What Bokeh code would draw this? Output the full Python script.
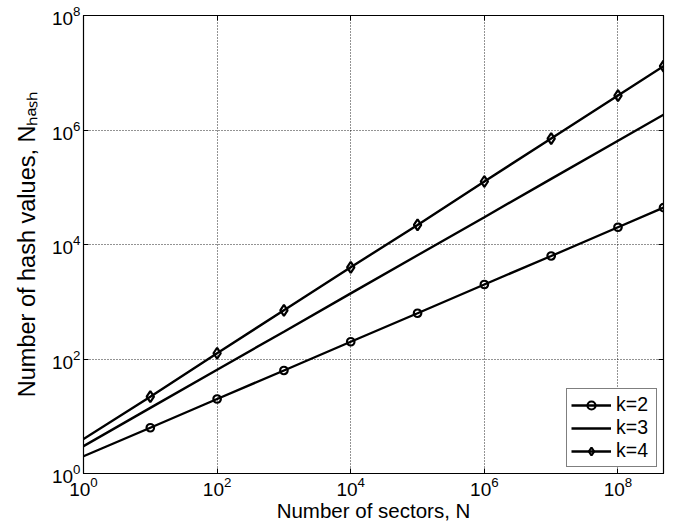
from bokeh.plotting import figure
from bokeh.models import Range1d, LogAxis, FixedTicker, Legend, LegendItem
from bokeh.embed import file_html
from bokeh.resources import INLINE

# Data
N = [1, 10, 100, 1e3, 1e4, 1e5, 1e6, 1e7, 1e8, 4.8e8]
k2 = [2.0, 6.3, 20, 63, 200, 630, 2000, 6300, 20000, 44000]
k3 = [3.0, 14, 65, 300, 1400, 6500, 30000, 140000, 650000, 1.85e6]
k4 = [4.0, 22, 126, 710, 4000, 22000, 126000, 710000, 4.0e6, 1.3e7]
marker_idx = [1, 2, 3, 4, 5, 6, 7, 8, 9]

x_ticks = [1, 1e2, 1e4, 1e6, 1e8]
y_ticks = [1, 1e2, 1e4, 1e6, 1e8]
series_labels = ["k=2", "k=3", "k=4"]
x_label = "Number of sectors, N"
y_label = "Number of hash values, N\u2095\u2090\u209b\u2095"

X0, X1 = 1, 4.8e8
Y0, Y1 = 1, 1e8

FONT = "Liberation Sans"

p = figure(width=680, height=524, x_axis_type="log", y_axis_type="log",
           x_range=Range1d(X0, X1), y_range=Range1d(Y0, Y1),
           output_backend="svg", toolbar_location=None,
           min_border_left=83, min_border_right=17, min_border_top=15, min_border_bottom=51)
p.background_fill_color = "white"
p.border_fill_color = "white"
p.outline_line_color = "black"
p.outline_line_width = 1.2

def style_axis(ax, ticks, show_labels):
    ax.ticker = FixedTicker(ticks=ticks)
    ax.major_tick_in = 5
    ax.major_tick_out = 0
    ax.minor_tick_in = 0
    ax.minor_tick_out = 0
    ax.axis_line_color = "black"
    ax.major_tick_line_color = "black"
    ax.major_tick_line_width = 1
    if show_labels:
        ax.major_label_text_font = FONT
        ax.major_label_text_font_size = "19px"
        ax.major_label_text_color = "black"
        ax.major_label_standoff = 3
        ax.axis_label_text_font = FONT
        ax.axis_label_text_font_style = "normal"
        ax.axis_label_text_color = "black"
    else:
        ax.major_label_overrides = {t: "" for t in ticks}
        ax.major_label_text_font_size = "0px"
        ax.major_label_standoff = 0

style_axis(p.xaxis[0], x_ticks, True)
style_axis(p.yaxis[0], y_ticks, True)
p.xaxis.axis_label = x_label
p.xaxis.axis_label_text_font_size = "20.5px"
p.xaxis.axis_label_standoff = 0
p.yaxis.axis_label = y_label
p.yaxis.axis_label_text_font_size = "23.5px"
p.yaxis.axis_label_standoff = 9

top = LogAxis()
style_axis(top, x_ticks, False)
p.add_layout(top, "above")
right = LogAxis()
style_axis(right, y_ticks, False)
p.add_layout(right, "right")

for g, t in ((p.xgrid[0], x_ticks), (p.ygrid[0], y_ticks)):
    g.ticker = FixedTicker(ticks=t)
    g.grid_line_color = "black"
    g.grid_line_dash = "1 2"
    g.grid_line_width = 1
    g.grid_line_alpha = 0.85

lw = 2.4
r2l = p.line(N, k2, line_width=lw, line_color="black")
r2m = p.scatter([N[i] for i in marker_idx], [k2[i] for i in marker_idx], marker="circle",
                size=7.5, line_width=2.2, line_color="black", fill_color=None)
r3l = p.line(N, k3, line_width=lw, line_color="black")
r4l = p.line(N, k4, line_width=lw, line_color="black")
r4m = p.scatter([N[i] for i in marker_idx], [k4[i] for i in marker_idx], marker="diamond",
                size=11, line_width=2.2, line_color="black", fill_color=None)

legend = Legend(items=[LegendItem(label=series_labels[0], renderers=[r2l, r2m]),
                       LegendItem(label=series_labels[1], renderers=[r3l]),
                       LegendItem(label=series_labels[2], renderers=[r4l, r4m])],
                location="bottom_right")
legend.label_text_font = FONT
legend.label_text_font_size = "19.5px"
legend.label_text_color = "black"
legend.border_line_color = "black"
legend.border_line_width = 1
legend.background_fill_color = "white"
legend.background_fill_alpha = 1
legend.glyph_width = 40
legend.glyph_height = 20
legend.label_height = 20
legend.label_width = 36
legend.label_standoff = 5
legend.spacing = 0
legend.padding = 4
legend.margin = 6
p.add_layout(legend)

open("out.html", "w").write(file_html(p, INLINE))
